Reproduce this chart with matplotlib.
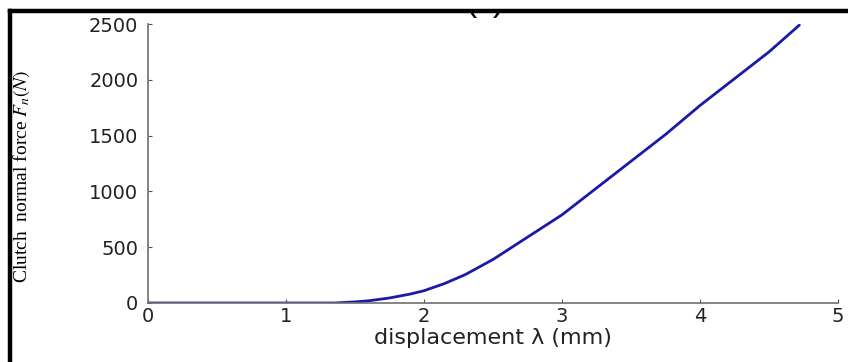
import matplotlib.pyplot as plt
from matplotlib.lines import Line2D
from matplotlib.patches import Rectangle

plt.rcParams['mathtext.fontset'] = 'stix'

# displacement (mm) vs clutch normal force (N)
disp = [0, 0.5, 1.0, 1.35, 1.5, 1.6, 1.75, 1.9, 2.0, 2.15, 2.3, 2.5, 2.75,
        3.0, 3.25, 3.5, 3.75, 4.0, 4.25, 4.5, 4.72]
force = [0, 0, 0, 0, 10, 20, 45, 80, 110, 175, 255, 390, 590,
         790, 1030, 1270, 1510, 1770, 2010, 2250, 2490]

xticks = [0, 1, 2, 3, 4, 5]
yticks = [0, 500, 1000, 1500, 2000, 2500]

fig = plt.figure(figsize=(8.48, 3.62), dpi=100)
ax = fig.add_axes([148/848, 1-303/362, 690/848, 279/362])

ax.plot(disp, force, color='#1a1aa8', linewidth=2, solid_capstyle='round')

ax.set_xlim(0, 5)
ax.set_ylim(0, 2500)
ax.set_xticks(xticks)
ax.set_yticks(yticks)
for s in ['top', 'right']:
    ax.spines[s].set_visible(False)
for s in ['left', 'bottom']:
    ax.spines[s].set_color('#707070')
    ax.spines[s].set_linewidth(1.2)
ax.tick_params(direction='in', length=3, color='#555555', labelsize=14)
ax.tick_params(axis='y', pad=7)
ax.tick_params(axis='x', pad=3)
for lab in ax.get_xticklabels() + ax.get_yticklabels():
    lab.set_family('DejaVu Sans')
    lab.set_color('#222222')

ax.set_xlabel('displacement λ (mm)', fontsize=16, family='DejaVu Sans',
              color='#222222', labelpad=1)
ax.set_ylabel('Clutch  normal force $F_n(N)$', fontsize=14,
              family='Liberation Serif')
ax.yaxis.set_label_coords(-116/690, 0.455)

# partly cropped panel label at the top
fig.text(485/848, 1-18/362, '(c)', ha='center', va='bottom', fontsize=24,
         family='Liberation Sans')
fig.add_artist(Rectangle((0, 1-11/362), 1, 11/362, transform=fig.transFigure,
                         facecolor='white', edgecolor='none', zorder=5))

# black frame along top and left
fig.add_artist(Line2D([10/848, 1], [1-11/362, 1-11/362], color='black',
                      linewidth=3.2, zorder=6))
fig.add_artist(Line2D([10/848, 10/848], [0, 1-11/362], color='black',
                      linewidth=3.2, zorder=6))

fig.savefig('out.png', dpi=100)
